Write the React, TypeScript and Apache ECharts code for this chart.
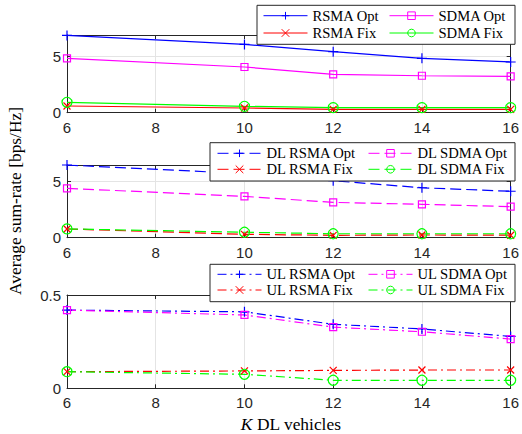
import React, { useEffect, useRef } from 'react';
import * as echarts from 'echarts';

const kValues = [6, 10, 12, 14, 16];
const xTicks = [6, 8, 10, 12, 14, 16];

// Subplot 1: total
const rsmaOpt = [6.9, 6.1, 5.45, 4.86, 4.53];
const sdmaOpt = [4.86, 4.08, 3.43, 3.3, 3.25];
const rsmaFix = [0.6, 0.42, 0.3, 0.3, 0.3];
const sdmaFix = [0.93, 0.57, 0.45, 0.45, 0.45];
// Subplot 2: DL
const dlRsmaOpt = [6.42, 5.66, 5.03, 4.41, 4.1];
const dlSdmaOpt = [4.36, 3.65, 3.12, 2.95, 2.74];
const dlRsmaFix = [0.77, 0.3, 0.21, 0.24, 0.22];
const dlSdmaFix = [0.78, 0.48, 0.35, 0.35, 0.35];
// Subplot 3: UL
const ulRsmaOpt = [0.419, 0.41, 0.343, 0.318, 0.278];
const ulSdmaOpt = [0.419, 0.393, 0.328, 0.303, 0.264];
const ulRsmaFix = [0.089, 0.093, 0.096, 0.098, 0.098];
const ulSdmaFix = [0.089, 0.075, 0.043, 0.043, 0.043];

const yMax = [6.94, 6.42, 0.5];
const yInterval = [5, 5, 0.5];

const AX = '#262626';
const GRIDC = '#e4e4e4';
const SANS = 'Liberation Sans';
const SERIF = 'Liberation Serif';

const PLUS = 'path://M5,0L5,10M0,5L10,5';
const CROSS = 'path://M0,0L10,10M10,0L0,10';

const markers: Record<string, { symbol: string; size: number }> = {
  plus: { symbol: PLUS, size: 10 },
  cross: { symbol: CROSS, size: 7 },
  square: { symbol: 'rect', size: 7 },
  circle: { symbol: 'circle', size: 10 },
};

const SOLID: any = 'solid';
const DASH: any = [11, 5];
const DASHDOT: any = [9, 4, 2, 4];

function mkSeries(name: string, values: number[], color: string, marker: string, dash: any, idx: number) {
  const m = markers[marker];
  return {
    name,
    type: 'line',
    xAxisIndex: idx * 2,
    yAxisIndex: idx * 2,
    data: kValues.map((k, i) => [k, values[i]]),
    symbol: m.symbol,
    symbolSize: m.size,
    showAllSymbol: true,
    lineStyle: { color, width: 1.2, type: dash },
    itemStyle: { color: 'none', borderColor: color, borderWidth: 1.2 },
    emphasis: { disabled: true },
    z: 3,
  };
}

function xAxes(idx: number) {
  const common = {
    type: 'value', gridIndex: idx, min: 6, max: 16, interval: 2,
    axisLine: { show: true, onZero: false, lineStyle: { color: AX, width: 1 } },
    axisTick: { show: true, inside: true, length: 4, lineStyle: { color: AX } },
  };
  return [
    {
      ...common, position: 'bottom',
      axisLabel: { show: true, color: AX, fontSize: 15, fontFamily: SANS, margin: 7 },
      splitLine: { show: true, lineStyle: { color: GRIDC, width: 1 } },
    },
    { ...common, position: 'top', axisLabel: { show: false }, splitLine: { show: false } },
  ];
}

function yAxes(idx: number) {
  const common = {
    type: 'value', gridIndex: idx, min: 0, max: yMax[idx], interval: yInterval[idx],
    axisLine: { show: true, onZero: false, lineStyle: { color: AX, width: 1 } },
    axisTick: { show: true, inside: true, length: 4, lineStyle: { color: AX } },
  };
  return [
    {
      ...common, position: 'left',
      axisLabel: { show: true, color: AX, fontSize: 15, fontFamily: SANS, margin: 6, showMaxLabel: idx === 2 },
      splitLine: { show: true, lineStyle: { color: GRIDC, width: 1 } },
    },
    { ...common, position: 'right', axisLabel: { show: false }, splitLine: { show: false } },
  ];
}

const grids = [
  { left: 67, right: 7, top: 35, height: 77.7 },
  { left: 67, right: 7, top: 165, height: 72.7 },
  { left: 67, right: 7, top: 295, height: 93.3 },
];

function mkLegend(data: string[], left: number, top: number, gap: number) {
  return {
    data,
    orient: 'vertical',
    left,
    top,
    padding: 0,
    itemGap: gap,
    itemWidth: 44,
    itemHeight: 9.5,
    selectedMode: false,
    z: 20,
    itemStyle: { borderWidth: 1 },
    lineStyle: { width: 1 },
    textStyle: { fontFamily: SERIF, fontSize: 14.6, color: '#000', lineHeight: 16 },
  };
}

const legendBoxes = [
  { x: 257, y: 5.3, w: 258, h: 39 },
  { x: 210, y: 142.7, w: 305, h: 38.3 },
  { x: 210, y: 264.3, w: 305, h: 37.4 },
];

export default function App() {
  const ref = useRef<HTMLDivElement>(null);
  useEffect(() => {
    document.body.style.margin = '0';
    const chart = echarts.init(ref.current!, undefined, { renderer: 'svg' });
    const option: any = {
      animation: false,
      backgroundColor: '#fff',
      grid: grids,
      xAxis: [...xAxes(0), ...xAxes(1), ...xAxes(2)],
      yAxis: [...yAxes(0), ...yAxes(1), ...yAxes(2)],
      legend: [
        mkLegend(['RSMA Opt', 'RSMA Fix'], 263, 7.7, 1.3),
        mkLegend(['SDMA Opt', 'SDMA Fix'], 389, 7.7, 1.3),
        mkLegend(['DL RSMA Opt', 'DL RSMA Fix'], 217, 145.3, 0),
        mkLegend(['DL SDMA Opt', 'DL SDMA Fix'], 368, 145.3, 0),
        mkLegend(['UL RSMA Opt', 'UL RSMA Fix'], 217, 266.3, -0.3),
        mkLegend(['UL SDMA Opt', 'UL SDMA Fix'], 368, 266.3, -0.3),
      ],
      series: [
        mkSeries('RSMA Opt', rsmaOpt, '#0000ff', 'plus', SOLID, 0),
        mkSeries('RSMA Fix', rsmaFix, '#ff0000', 'cross', SOLID, 0),
        mkSeries('SDMA Opt', sdmaOpt, '#ff00ff', 'square', SOLID, 0),
        mkSeries('SDMA Fix', sdmaFix, '#00ff00', 'circle', SOLID, 0),
        mkSeries('DL RSMA Opt', dlRsmaOpt, '#0000ff', 'plus', DASH, 1),
        mkSeries('DL RSMA Fix', dlRsmaFix, '#ff0000', 'cross', DASH, 1),
        mkSeries('DL SDMA Opt', dlSdmaOpt, '#ff00ff', 'square', DASH, 1),
        mkSeries('DL SDMA Fix', dlSdmaFix, '#00ff00', 'circle', DASH, 1),
        mkSeries('UL RSMA Opt', ulRsmaOpt, '#0000ff', 'plus', DASHDOT, 2),
        mkSeries('UL RSMA Fix', ulRsmaFix, '#ff0000', 'cross', DASHDOT, 2),
        mkSeries('UL SDMA Opt', ulSdmaOpt, '#ff00ff', 'square', DASHDOT, 2),
        mkSeries('UL SDMA Fix', ulSdmaFix, '#00ff00', 'circle', DASHDOT, 2),
      ],
      graphic: [
        ...legendBoxes.map((b) => ({
          type: 'rect',
          z: 10,
          shape: { x: b.x, y: b.y, width: b.w, height: b.h },
          style: { fill: '#fff', stroke: AX, lineWidth: 1 },
        })),
        {
          type: 'text',
          x: 15,
          y: 201,
          rotation: Math.PI / 2,
          z: 10,
          style: {
            text: 'Average sum-rate [bps/Hz]',
            fontFamily: SERIF,
            fontSize: 17.4,
            fill: '#000',
            align: 'center',
            verticalAlign: 'middle',
          },
        },
        {
          type: 'text',
          x: 291,
          y: 424,
          z: 10,
          style: {
            text: '{i|K} DL vehicles',
            fontFamily: SERIF,
            fontSize: 17.4,
            fill: '#000',
            align: 'center',
            verticalAlign: 'middle',
            rich: {
              i: { fontFamily: SERIF, fontSize: 17.4, fontStyle: 'italic', fill: '#000' },
            },
          },
        },
      ],
    };
    chart.setOption(option);
    return () => chart.dispose();
  }, []);
  return <div ref={ref} style={{ width: 522, height: 434 }} />;
}
